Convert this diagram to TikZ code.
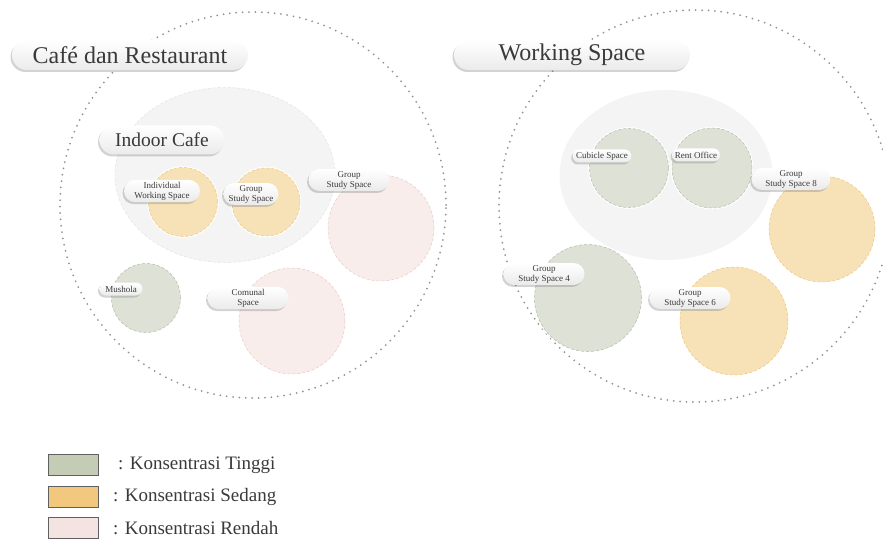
\documentclass[tikz,border=0pt]{standalone}
\usepackage{fontspec}
\setmainfont{Liberation Serif}
\usetikzlibrary{shapes.geometric,shapes.misc,shadows}
\definecolor{teks}{HTML}{3A3A3A}
\definecolor{tinggifill}{HTML}{DDE1D6}
\definecolor{tinggiline}{HTML}{B5BCA6}
\definecolor{sedangfill}{HTML}{F7E2B7}
\definecolor{sedangline}{HTML}{EFC47C}
\definecolor{rendahfill}{HTML}{F8EDEB}
\definecolor{rendahline}{HTML}{EACAC6}
\definecolor{tinggibox}{HTML}{C5CCB5}
\definecolor{sedangbox}{HTML}{F2C77E}
\definecolor{rendahbox}{HTML}{F3E3E1}
\definecolor{ruangfill}{HTML}{F4F4F4}
\tikzset{
  pill/.style={rounded rectangle,top color=white,bottom color=gray!16,text=teks,
    inner sep=2pt,align=center,
    drop shadow={shadow xshift=-1.5pt,shadow yshift=-2pt,opacity=.35}},
  judul/.style={pill,font=\fontsize{24}{27}\selectfont,minimum height=30pt},
  subjudul/.style={pill,font=\fontsize{19.5}{22}\selectfont,minimum height=29pt},
  tag/.style={pill,font=\fontsize{9}{10}\selectfont,minimum height=13pt},
  zona/.style={circle,inner sep=0pt,fill=#1fill,draw=#1line,densely dashed,
    line width=.5pt,preaction={draw=white,line width=2.6pt,solid}},
  grens/.style={circle,inner sep=0pt,draw=gray!85,line width=2pt,
    line cap=round,dash pattern=on 0pt off 6.4pt},
  kotak/.style={rectangle,fill=#1box,draw=gray!75!black,line width=.9pt,
    minimum width=50pt,minimum height=21pt},
  ket/.style={text=teks,font=\fontsize{19}{22}\selectfont,anchor=west,inner sep=0pt}
}
\begin{document}
\begin{tikzpicture}[x=1pt,y=-1pt]
	\useasboundingbox (0,0) rectangle (883,540);
	\clip (0,0) rectangle (883,540);
	% batas zona
	\node[grens,minimum size=386pt] (cafe) at (253,205) {};
	\node[grens,minimum size=392pt] (work) at (695,206) {};
	% ruang dalam
	\node[ellipse,fill=ruangfill,draw=gray!22,densely dashed,line width=.5pt,
		preaction={draw=white,line width=2.6pt,solid},
		minimum width=220pt,minimum height=175pt] (indoor) at (225,175) {};
	\node[ellipse,fill=ruangfill,minimum width=213pt,minimum height=170pt] (office) at (666,175) {};
	% cafe dan restaurant
	\node[zona=sedang,minimum size=69pt] (individual) at (183,202) {};
	\node[zona=sedang,minimum size=68pt] (groupA) at (266,202) {};
	\node[zona=rendah,minimum size=106pt] (groupB) at (381,228) {};
	\node[zona=tinggi,minimum size=69pt] (mushola) at (146,298) {};
	\node[zona=rendah,minimum size=106pt] (komunal) at (292,321) {};
	% working space
	\node[zona=tinggi,minimum size=79pt] (cubicle) at (629,168) {};
	\node[zona=tinggi,minimum size=80pt] (rent) at (712,168) {};
	\node[zona=sedang,minimum size=106pt] (group8) at (822,229) {};
	\node[zona=tinggi,minimum size=107pt] (group4) at (588,298) {};
	\node[zona=sedang,minimum size=108pt] (group6) at (734,321) {};
	% label
	\node[judul,minimum width=240pt] (tCafe) at (130,55) {Café dan Restaurant};
	\node[judul,minimum width=240pt] (tWork) at (572,55) {Working Space};
	\node[subjudul,minimum width=129pt] (tIndoor) at (162,140) {Indoor Cafe};
	\node[tag,minimum width=80pt] (lIndividual) at (162,191) {Individual\\Working Space};
	\node[tag,minimum width=59pt] (lGroupA) at (251,194) {Group\\Study Space};
	\node[tag,minimum width=85pt] (lGroupB) at (349,180) {Group\\Study Space};
	\node[tag,minimum width=47pt] (lMushola) at (121,289) {Mushola};
	\node[tag,minimum width=85pt] (lKomunal) at (248,298) {Comunal\\Space};
	\node[tag,minimum width=55pt] (lCubicle) at (602,156) {Cubicle Space};
	\node[tag,minimum width=52pt] (lRent) at (696,155) {Rent Office};
	\node[tag,minimum width=83pt] (lGroup8) at (791,179) {Group\\Study Space 8};
	\node[tag,minimum width=85pt] (lGroup4) at (544,274) {Group\\Study Space 4};
	\node[tag,minimum width=85pt] (lGroup6) at (690,298) {Group\\Study Space 6};
	% keterangan
	\node[kotak=tinggi] (kTinggi) at (73,465) {};
	\node[kotak=sedang] (kSedang) at (73,497) {};
	\node[kotak=rendah] (kRendah) at (73,528) {};
	\node[ket] (tTinggi) at (118,465) {: Konsentrasi Tinggi};
	\node[ket] (tSedang) at (113,497) {: Konsentrasi Sedang};
	\node[ket] (tRendah) at (113,528) {: Konsentrasi Rendah};
\end{tikzpicture}
\end{document}
